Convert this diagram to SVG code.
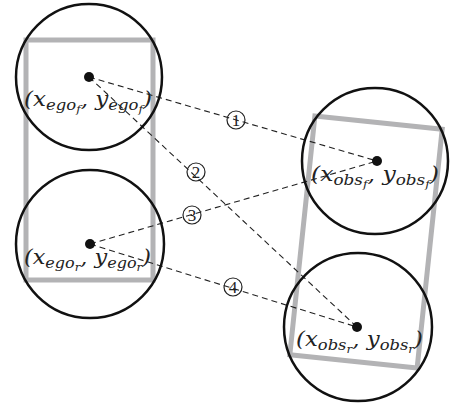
<svg xmlns="http://www.w3.org/2000/svg" width="450" height="407" viewBox="0 0 450 407">
<style>
.car{fill:none;stroke:#b3b3b5;stroke-width:5}
.rng{fill:none;stroke:#111;stroke-width:2.5}
.dot{fill:#111}
.con{stroke:#222;stroke-width:1.1;stroke-dasharray:6,4;fill:none}
.lbl{font-family:"DejaVu Serif","Liberation Serif",serif;font-style:italic;font-size:21px;fill:#222}
.sub{font-size:15px}
.ss{font-size:11px}
.nc{fill:none;stroke:#222;stroke-width:1.2}
.num{font-family:"Liberation Serif",serif;font-size:17px;fill:#222;text-anchor:middle}
</style>
<rect width="450" height="407" fill="#fff"/>
<g id="ego-car"><rect class="car" x="26" y="40" width="127" height="240"/></g>
<g id="obs-car"><rect class="car" x="302" y="122" width="128" height="240" transform="rotate(6 366 242)"/></g>
<g id="connectors">
<line class="con" x1="89" y1="77" x2="377" y2="161"/>
<line class="con" x1="89" y1="77" x2="357" y2="327"/>
<line class="con" x1="90" y1="244" x2="377" y2="161"/>
<line class="con" x1="90" y1="244" x2="357" y2="327"/>
<circle class="nc" cx="236" cy="120" r="9"/><text class="num" x="236" y="126">1</text>
<circle class="nc" cx="196" cy="172" r="9"/><text class="num" x="196" y="178">2</text>
<circle class="nc" cx="192" cy="215" r="9"/><text class="num" x="192" y="221">3</text>
<circle class="nc" cx="233" cy="287" r="9"/><text class="num" x="233" y="293">4</text>
</g>
<g id="ego-front">
<circle class="rng" cx="89" cy="77" r="73"/>
<circle class="dot" cx="89" cy="77" r="5"/>
<text class="lbl" x="24" y="106" textLength="128" lengthAdjust="spacingAndGlyphs">(x<tspan class="sub" dy="4">ego</tspan><tspan class="ss" dy="3">f</tspan><tspan dy="-7">, y</tspan><tspan class="sub" dy="4">ego</tspan><tspan class="ss" dy="3">f</tspan><tspan dy="-7">)</tspan></text>
</g>
<g id="ego-rear">
<circle class="rng" cx="90" cy="244" r="74"/>
<circle class="dot" cx="90" cy="244" r="5"/>
<text class="lbl" x="24" y="264" textLength="127" lengthAdjust="spacingAndGlyphs">(x<tspan class="sub" dy="4">ego</tspan><tspan class="ss" dy="3">r</tspan><tspan dy="-7">, y</tspan><tspan class="sub" dy="4">ego</tspan><tspan class="ss" dy="3">r</tspan><tspan dy="-7">)</tspan></text>
</g>
<g id="obs-front">
<circle class="rng" cx="375" cy="161" r="73"/>
<circle class="dot" cx="377" cy="161" r="5"/>
<text class="lbl" x="311" y="181" textLength="128" lengthAdjust="spacingAndGlyphs">(x<tspan class="sub" dy="4">obs</tspan><tspan class="ss" dy="3">f</tspan><tspan dy="-7">, y</tspan><tspan class="sub" dy="4">obs</tspan><tspan class="ss" dy="3">f</tspan><tspan dy="-7">)</tspan></text>
</g>
<g id="obs-rear">
<circle class="rng" cx="358" cy="327" r="74"/>
<circle class="dot" cx="357" cy="327" r="5"/>
<text class="lbl" x="296" y="346" textLength="127" lengthAdjust="spacingAndGlyphs">(x<tspan class="sub" dy="4">obs</tspan><tspan class="ss" dy="3">r</tspan><tspan dy="-7">, y</tspan><tspan class="sub" dy="4">obs</tspan><tspan class="ss" dy="3">r</tspan><tspan dy="-7">)</tspan></text>
</g>
</svg>
